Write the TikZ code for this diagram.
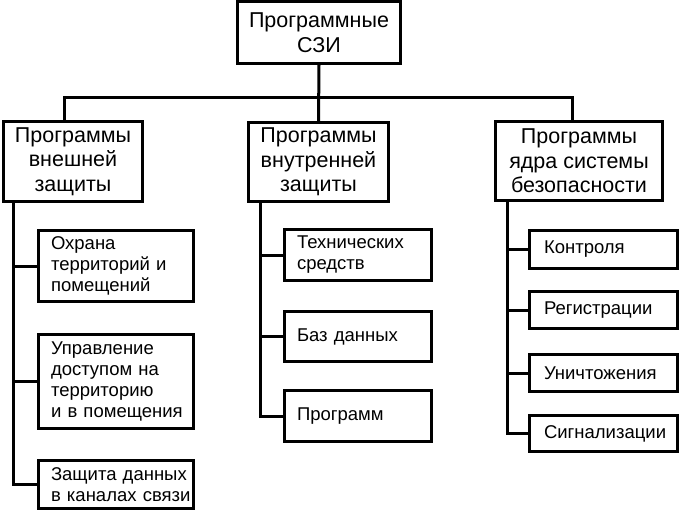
\documentclass[tikz,border=0pt]{standalone}
\usepackage{fontspec}
\setmainfont{Liberation Sans}
\begin{document}
\begin{tikzpicture}[x=1pt,y=-1pt,
  lw/.style={line width=3pt},
  topbox/.style={draw, lw, inner sep=0pt, align=center,
    font=\fontsize{21.5}{24.5}\selectfont},
  subbox/.style={draw, lw, inner ysep=0pt, align=left,
    font=\fontsize{18.5}{21}\selectfont},
  conn/.style={lw}]
\useasboundingbox (0,0) rectangle (681,512);
% top
\node[topbox, minimum width=163pt, minimum height=62pt] (top) at (319,32.5) {Программные\\СЗИ};
% level 2
\node[topbox, minimum width=139pt, minimum height=80pt] (L) at (73,161.5) {Программы\\внешней\\защиты};
\node[topbox, minimum width=140pt, minimum height=79pt] (M) at (318.5,162) {Программы\\внутренней\\защиты};
\node[topbox, minimum width=167pt, minimum height=79pt] (R) at (579,161) {Программы\\ядра системы\\безопасности};
% left column
\node[subbox, inner xsep=12.5pt, text width=130pt, minimum height=71pt] (a1) at (116,266) {Охрана\\территорий~и\\помещений};
\node[subbox, inner xsep=12.5pt, text width=130pt, minimum height=94pt] (a2) at (116,381.5) {Управление\\доступом~на\\территорию\\и~в~помещения};
\node[subbox, inner xsep=12.5pt, text width=130pt, minimum height=48pt] (a3) at (116,484.5) {Защита~данных\\в~каналах~связи};
% middle column
\node[subbox, inner xsep=12.5pt, text width=122pt, minimum height=51pt] (b1) at (358,255) {Технических\\средств};
\node[subbox, inner xsep=12.5pt, text width=122pt, minimum height=50pt] (b2) at (358,336.5) {Баз~данных};
\node[subbox, inner xsep=12.5pt, text width=122pt, minimum height=51pt] (b3) at (358,416) {Программ};
% right column
\node[subbox, inner xsep=14.5pt, text width=119pt, minimum height=38pt] (c1) at (603.5,249.5) {Контроля};
\node[subbox, inner xsep=14.5pt, text width=119pt, minimum height=37pt] (c2) at (603.5,310) {Регистрации};
\node[subbox, inner xsep=14.5pt, text width=119pt, minimum height=37pt] (c3) at (603.5,373) {Уничтожения};
\node[subbox, inner xsep=14.5pt, text width=119pt, minimum height=36pt] (c4) at (603.5,433.5) {Сигнализации};
% bus
\coordinate (busL) at (64,97);
\coordinate (busR) at (572,97);
\coordinate (lx) at (13,0);
\coordinate (mx) at (260,0);
\coordinate (rx) at (507,0);
\draw[conn] (top.south) -- (M.north);
\draw[conn] (L.north -| busL) -- (busL) -- (busR) -- (R.north -| busR);
% left branches
\draw[conn] (L.south -| lx) |- (a3.west);
\draw[conn] (a1.west) -- (a1.west -| lx);
\draw[conn] (a2.west) -- (a2.west -| lx);
% middle branches
\draw[conn] (M.south -| mx) |- (b3.west);
\draw[conn] (b1.west) -- (b1.west -| mx);
\draw[conn] (b2.west) -- (b2.west -| mx);
% right branches
\draw[conn] (R.south -| rx) |- (c4.west);
\draw[conn] (c1.west) -- (c1.west -| rx);
\draw[conn] (c2.west) -- (c2.west -| rx);
\draw[conn] (c3.west) -- (c3.west -| rx);
\end{tikzpicture}
\end{document}
